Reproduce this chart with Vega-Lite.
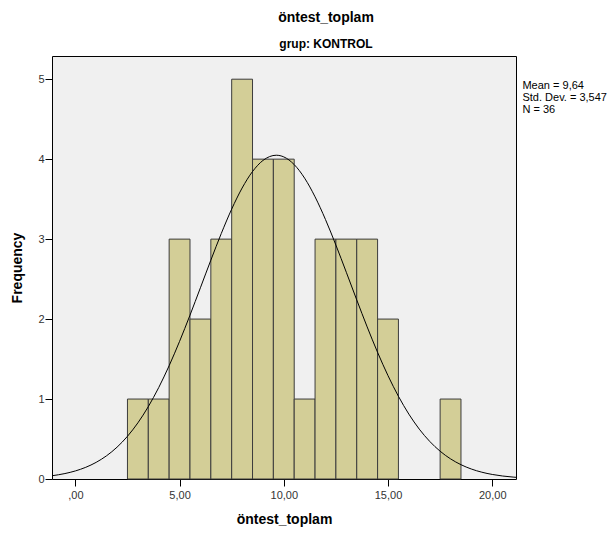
{
  "$schema": "https://vega.github.io/schema/vega-lite/v6.json",
  "width": 464,
  "height": 423,
  "autosize": {"type": "none"},
  "padding": {"left": 52, "top": 56, "right": 100, "bottom": 56},
  "background": "white",
  "config": {
    "font": "Liberation Sans",
    "view": {"fill": "#F0F0F0", "stroke": "#000000", "strokeWidth": 1},
    "axis": {
      "grid": false,
      "domain": false,
      "tickColor": "#000000",
      "tickSize": 7,
      "labelFont": "Liberation Sans",
      "labelFontSize": 11,
      "labelColor": "#333333",
      "titleFont": "Liberation Sans",
      "titleFontSize": 14,
      "titleFontWeight": "bold",
      "titleColor": "#000000"
    }
  },
  "title": {
    "text": "öntest_toplam",
    "subtitle": "grup: KONTROL",
    "anchor": "middle",
    "font": "Liberation Sans",
    "fontSize": 14,
    "fontWeight": "bold",
    "color": "#000000",
    "subtitleFont": "Liberation Sans",
    "subtitleFontSize": 12,
    "subtitleFontWeight": "bold",
    "subtitleColor": "#000000",
    "subtitlePadding": 14,
    "offset": 6,
    "dx": 42
  },
  "datasets": {
    "bins": [
      {"x0": 2.5, "x1": 3.5, "count": 1},
      {"x0": 3.5, "x1": 4.5, "count": 1},
      {"x0": 4.5, "x1": 5.5, "count": 3},
      {"x0": 5.5, "x1": 6.5, "count": 2},
      {"x0": 6.5, "x1": 7.5, "count": 3},
      {"x0": 7.5, "x1": 8.5, "count": 5},
      {"x0": 8.5, "x1": 9.5, "count": 4},
      {"x0": 9.5, "x1": 10.5, "count": 4},
      {"x0": 10.5, "x1": 11.5, "count": 1},
      {"x0": 11.5, "x1": 12.5, "count": 3},
      {"x0": 12.5, "x1": 13.5, "count": 3},
      {"x0": 13.5, "x1": 14.5, "count": 3},
      {"x0": 14.5, "x1": 15.5, "count": 2},
      {"x0": 17.5, "x1": 18.5, "count": 1}
    ],
    "curve": [
      {"x": -1.12, "y": 0.0406}, {"x": -0.5, "y": 0.0681}, {"x": 0, "y": 0.1008},
      {"x": 0.5, "y": 0.1463}, {"x": 1, "y": 0.2084}, {"x": 1.5, "y": 0.2909},
      {"x": 2, "y": 0.398}, {"x": 2.5, "y": 0.5339}, {"x": 3, "y": 0.7021},
      {"x": 3.5, "y": 0.9051}, {"x": 4, "y": 1.1438}, {"x": 4.5, "y": 1.4169},
      {"x": 5, "y": 1.721}, {"x": 5.5, "y": 2.0488}, {"x": 6, "y": 2.3915},
      {"x": 6.5, "y": 2.7365}, {"x": 7, "y": 3.0696}, {"x": 7.5, "y": 3.3753},
      {"x": 8, "y": 3.6385}, {"x": 8.5, "y": 3.8452}, {"x": 9, "y": 3.9836},
      {"x": 9.64, "y": 4.049}, {"x": 10, "y": 4.0282}, {"x": 10.5, "y": 3.9317},
      {"x": 11, "y": 3.762}, {"x": 11.5, "y": 3.5289}, {"x": 12, "y": 3.2451},
      {"x": 12.5, "y": 2.9253}, {"x": 13, "y": 2.5852}, {"x": 13.5, "y": 2.2397},
      {"x": 14, "y": 1.9022}, {"x": 14.5, "y": 1.5837}, {"x": 15, "y": 1.2926},
      {"x": 15.5, "y": 1.0344}, {"x": 16, "y": 0.8113}, {"x": 16.5, "y": 0.6239},
      {"x": 17, "y": 0.4704}, {"x": 17.5, "y": 0.3476}, {"x": 18, "y": 0.2518},
      {"x": 18.5, "y": 0.1788}, {"x": 19, "y": 0.1245}, {"x": 19.5, "y": 0.085},
      {"x": 20, "y": 0.0569}, {"x": 20.5, "y": 0.0373}, {"x": 21, "y": 0.024},
      {"x": 21.14, "y": 0.0211}
    ],
    "stats": [
      {"label": "Mean = 9,64\nStd. Dev. = 3,547\nN = 36"}
    ]
  },
  "layer": [
    {
      "data": {"name": "bins"},
      "mark": {"type": "rect", "fill": "#D3CE97", "stroke": "#3C3C3C", "strokeWidth": 1},
      "encoding": {
        "x": {
          "field": "x0", "type": "quantitative",
          "scale": {"domain": [-1.12, 21.14], "nice": false, "zero": false},
          "axis": {
            "title": "öntest_toplam",
            "values": [0, 5, 10, 15, 20],
            "labelExpr": "datum.value == 0 ? ',00' : replace(format(datum.value, '.2f'), '.', ',')",
            "labelPadding": 3,
            "titlePadding": 12
          }
        },
        "x2": {"field": "x1"},
        "y": {
          "field": "count", "type": "quantitative",
          "scale": {"domain": [0, 5.29], "nice": false},
          "axis": {
            "title": "Frequency",
            "values": [0, 1, 2, 3, 4, 5],
            "format": "d",
            "labelPadding": 1,
            "titlePadding": 13
          }
        },
        "y2": {"datum": 0}
      }
    },
    {
      "data": {"name": "curve"},
      "mark": {"type": "line", "color": "#000000", "strokeWidth": 1, "interpolate": "monotone"},
      "encoding": {
        "x": {"field": "x", "type": "quantitative"},
        "y": {"field": "y", "type": "quantitative"}
      }
    },
    {
      "data": {"name": "stats"},
      "mark": {"type": "text", "align": "left", "baseline": "middle", "fontSize": 11, "lineHeight": 12, "lineBreak": "\n", "color": "#000000", "clip": false, "font": "Liberation Sans"},
      "encoding": {
        "x": {"datum": 21.45, "type": "quantitative"},
        "y": {"datum": 4.912, "type": "quantitative"},
        "text": {"field": "label"}
      }
    }
  ]
}
